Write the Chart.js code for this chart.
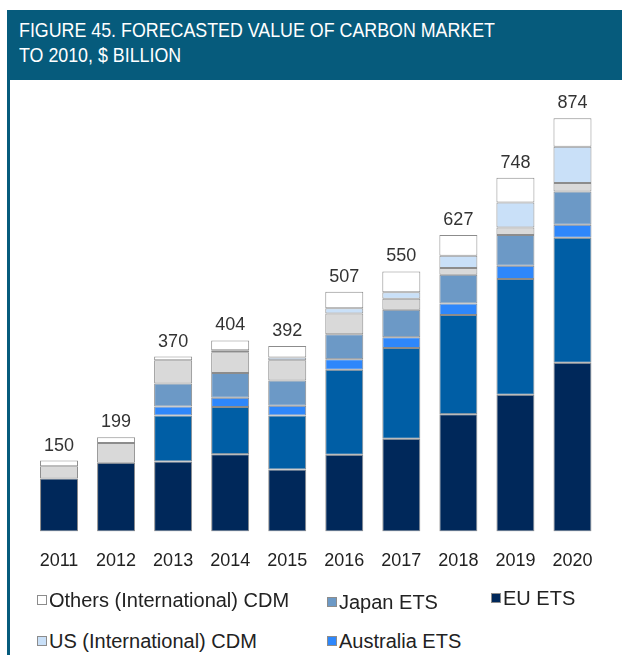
<!DOCTYPE html>
<html>
<head>
<meta charset="utf-8">
<script src="https://cdn.jsdelivr.net/npm/chart.js@4"></script>
<style>
  html, body { margin: 0; padding: 0; background: #fff; overflow: hidden; }
  body { width: 622px; height: 655px; position: relative; font-family: "Liberation Sans", Arial, sans-serif; }
  #kopf { position: absolute; left: 7px; top: 10px; width: 615px; height: 70px; background: #065b7c; }
  .kopf-linje { position: absolute; left: 12px; color: #fff; font-size: 21px; line-height: 25px; white-space: nowrap; transform-origin: 0 0; }
  #kant { position: absolute; left: 7px; top: 80px; width: 3px; height: 575px; background: #065b7c; }
  #graf { position: absolute; left: 0; top: 80px; }
  .forklaring { position: absolute; font-size: 20px; color: #222; white-space: nowrap; line-height: 22px; }
  .forklaring i { display: inline-block; width: 8px; height: 8px; border: 1px solid #8c8c8c; margin-right: 2px; vertical-align: 2px; }
</style>
</head>
<body>
<div id="kopf">
  <div class="kopf-linje" id="linje1" style="top:7px">FIGURE 45. FORECASTED VALUE OF CARBON MARKET</div>
  <div class="kopf-linje" id="linje2" style="top:32px">TO 2010, $ BILLION</div>
</div>
<div id="kant"></div>
<canvas id="graf" width="622" height="511"></canvas>

<div class="forklaring" style="left:37px;top:589px"><i style="background:#ffffff"></i>Others (International) CDM</div>
<div class="forklaring" style="left:327px;top:591px"><i style="background:#6c99c6"></i>Japan ETS</div>
<div class="forklaring" style="left:491px;top:587px"><i style="background:#00285a"></i>EU ETS</div>
<div class="forklaring" style="left:37px;top:630px"><i style="background:#c9e0f8"></i>US (International) CDM</div>
<div class="forklaring" style="left:327px;top:630px"><i style="background:#2e87fb"></i>Australia ETS</div>

<script>
"use strict";

// aar og vaerdier ($ mia.), nederst i stakken foerst
const aar           = ["2011", "2012", "2013", "2014", "2015", "2016", "2017", "2018", "2019", "2020"];
const euEts         = [112, 145, 148, 163, 131, 162, 196, 248, 289, 357];
const andenEts      = [null, null, 97, 100, 114, 180, 192, 210, 245, 264];
const australienEts = [null, null, 19, 20, 21, 22, 23, 24, 28, 28];
const japanEts      = [null, null, 49, 52, 53, 53, 58, 61, 65, 70];
const andenCdm      = [26, 42, 49, 44, 43, 44, 23, 14, 16, 18];
const usCdm         = [null, null, null, 4, 6, 11, 14, 26, 53, 77];
const oevrigeCdm    = [12, 12, 8, 21, 24, 35, 44, 44, 52, 60];

// header-teksten er smal i originalen, saa den klemmes lidt sammen
const maal = document.createElement("canvas").getContext("2d");
maal.font = "21px 'Liberation Sans', Arial, sans-serif";
const skala = 476 / maal.measureText(document.getElementById("linje1").textContent).width;
document.getElementById("linje1").style.transform = `scaleX(${skala})`;
document.getElementById("linje2").style.transform = `scaleX(${skala})`;

const totaler = {
  id: "totaler",
  afterDatasetsDraw(chart) {
    const ctx = chart.ctx;
    const xs = chart.scales.x;
    const ys = chart.scales.y;
    ctx.save();
    ctx.font = "18px 'Liberation Sans', Arial, sans-serif";
    ctx.fillStyle = "#333";
    ctx.textAlign = "center";
    ctx.textBaseline = "alphabetic";
    aar.forEach((a, i) => {
      const sum = chart.data.datasets.reduce((s, d) => s + (d.data[i] || 0), 0);
      ctx.fillText(String(sum), xs.getPixelForValue(i), ys.getPixelForValue(sum) - 10);
    });
    ctx.restore();
  }
};

function serie(label, data, farve) {
  return {
    label, data,
    backgroundColor: farve,
    borderColor: "#8c8c8c",
    borderWidth: 1,
    borderSkipped: false,
    categoryPercentage: 1,
    barPercentage: 0.666
  };
}

new Chart(document.getElementById("graf").getContext("2d"), {
  type: "bar",
  data: {
    labels: aar,
    datasets: [
      serie("EU ETS", euEts, "#00285a"),
      serie("Other ETS", andenEts, "#005ea5"),
      serie("Australia ETS", australienEts, "#2e87fb"),
      serie("Japan ETS", japanEts, "#6c99c6"),
      serie("Other CDM", andenCdm, "#d9d9d9"),
      serie("US (International) CDM", usCdm, "#c9e0f8"),
      serie("Others (International) CDM", oevrigeCdm, "#ffffff")
    ]
  },
  options: {
    responsive: false,
    animation: false,
    devicePixelRatio: 1,
    layout: { padding: { left: 30.5, right: 21, top: 26, bottom: 0 } },
    plugins: { legend: { display: false }, tooltip: { enabled: false } },
    scales: {
      x: {
        stacked: true,
        grid: { display: false, drawTicks: false },
        border: { display: false },
        ticks: { color: "#222", padding: 19, font: { family: "'Liberation Sans', Arial, sans-serif", size: 18 } }
      },
      y: { stacked: true, display: false, min: 0, max: 900 }
    }
  },
  plugins: [totaler]
});
</script>
</body>
</html>
